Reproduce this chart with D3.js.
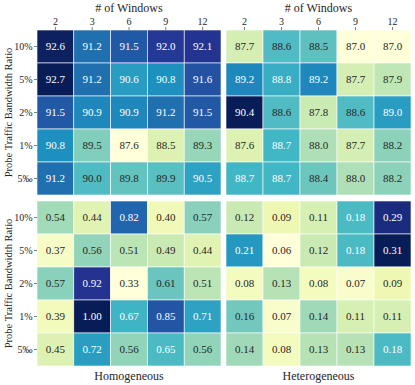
<!DOCTYPE html>
<html>
<head>
<meta charset="utf-8">
<script src="https://cdn.jsdelivr.net/npm/d3@7"></script>
<style>
  body { margin: 0; background: #fff; }
</style>
</head>
<body>
<div id="chart"></div>
<script>
// columns and rows
var windows = [2, 3, 6, 9, 12];
var ratios = ["10%", "5%", "2%", "1%", "5\u2030"];

// accuracy (top row of panels)
var homoAcc = [
    [92.6, 91.2, 91.5, 92.0, 92.1],
    [92.7, 91.2, 90.6, 90.8, 91.6],
    [91.5, 90.9, 90.9, 91.2, 91.5],
    [90.8, 89.5, 87.6, 88.5, 89.3],
    [91.2, 90.0, 89.8, 89.9, 90.5]
];
var heteroAcc = [
    [87.7, 88.6, 88.5, 87.0, 87.0],
    [89.2, 88.8, 89.2, 87.7, 87.9],
    [90.4, 88.6, 87.8, 88.6, 89.0],
    [87.6, 88.7, 88.0, 87.7, 88.2],
    [88.7, 88.7, 88.4, 88.0, 88.2]
];

// overhead (bottom row of panels)
var homoOvh = [
    [0.54, 0.44, 0.82, 0.40, 0.57],
    [0.37, 0.56, 0.51, 0.49, 0.44],
    [0.57, 0.92, 0.33, 0.61, 0.51],
    [0.39, 1.00, 0.67, 0.85, 0.71],
    [0.45, 0.72, 0.56, 0.65, 0.56]
];
var heteroOvh = [
    [0.12, 0.09, 0.11, 0.18, 0.29],
    [0.21, 0.06, 0.12, 0.18, 0.31],
    [0.08, 0.13, 0.08, 0.07, 0.09],
    [0.16, 0.07, 0.14, 0.11, 0.11],
    [0.14, 0.08, 0.13, 0.13, 0.18]
];

var width = 415, height = 385;
var serif = "'Liberation Serif', 'Times New Roman', Times, 'Nimbus Roman', 'DejaVu Serif', serif";

var svg = d3.select("#chart").append("svg")
    .attr("width", width)
    .attr("height", height)
    .style("font-family", serif);

// matplotlib-style linear YlGnBu
var ylgnbu = d3.piecewise(d3.interpolateRgb, d3.schemeYlGnBu[9]);

function lum(c) {
    var rgb = d3.rgb(c);
    function ch(v) {
        v = v / 255;
        return v <= 0.03928 ? v / 12.92 : Math.pow((v + 0.055) / 1.055, 2.4);
    }
    return 0.2126 * ch(rgb.r) + 0.7152 * ch(rgb.g) + 0.0722 * ch(rgb.b);
}

var colLeft = d3.scaleBand().domain(windows).range([37, 221]);
var colRight = d3.scaleBand().domain(windows).range([226, 411]);
var rowTop = d3.scaleBand().domain(ratios).range([30, 195]);
var rowBottom = d3.scaleBand().domain(ratios).range([201, 366]);

function drawPanel(data, x, y, fmt) {
    var flat = [];
    data.forEach(function(row, i) {
        row.forEach(function(v, j) {
            flat.push({r: ratios[i], c: windows[j], v: v});
        });
    });
    var color = d3.scaleSequential(ylgnbu)
        .domain(d3.extent(flat, function(d) { return d.v; }));

    var g = svg.append("g");
    var cell = g.selectAll(".cell")
        .data(flat)
        .enter()
        .append("g")
        .attr("class", "cell");

    cell.append("rect")
        .attr("x", function(d) { return x(d.c); })
        .attr("y", function(d) { return y(d.r); })
        .attr("width", x.bandwidth())
        .attr("height", y.bandwidth())
        .attr("fill", function(d) { return color(d.v); })
        .attr("stroke", "white")
        .attr("stroke-width", 0.6);

    cell.append("text")
        .attr("x", function(d) { return x(d.c) + x.bandwidth() / 2; })
        .attr("y", function(d) { return y(d.r) + y.bandwidth() / 2; })
        .attr("dy", "0.35em")
        .attr("text-anchor", "middle")
        .style("font-family", serif)
        .style("font-size", "11px")
        .attr("fill", function(d) {
            return lum(color(d.v)) > 0.408 ? "#262626" : "white";
        })
        .text(function(d) { return d3.format(fmt)(d.v); });
}

drawPanel(homoAcc, colLeft, rowTop, ".1f");
drawPanel(heteroAcc, colRight, rowTop, ".1f");
drawPanel(homoOvh, colLeft, rowBottom, ".2f");
drawPanel(heteroOvh, colRight, rowBottom, ".2f");

// axes
function styleAxis(g) {
    g.attr("font-family", null).attr("font-size", null);
    g.select(".domain").remove();
    g.selectAll(".tick line").attr("stroke", "#262626").attr("stroke-width", 0.6);
    g.selectAll(".tick text")
        .attr("fill", "#262626")
        .style("font-size", "10px")
        .style("font-family", serif);
}

function label(x, y, txt, size) {
    return svg.append("text")
        .attr("x", x)
        .attr("y", y)
        .attr("text-anchor", "middle")
        .style("font-size", size + "px")
        .style("font-family", serif)
        .attr("fill", "#262626")
        .text(txt);
}

[colLeft, colRight].forEach(function(x) {
    svg.append("g")
        .attr("transform", "translate(0,30)")
        .call(d3.axisTop(x).tickSize(3).tickPadding(2))
        .call(styleAxis);
    label((x.range()[0] + x.range()[1]) / 2, 12, "# of Windows", 12);
});

[rowTop, rowBottom].forEach(function(y) {
    svg.append("g")
        .attr("transform", "translate(37,0)")
        .call(d3.axisLeft(y).tickSize(3).tickPadding(1.5))
        .call(styleAxis);
    var cy = (y.range()[0] + y.range()[1]) / 2;
    label(0, 0, "Probe Traffic Bandwidth Ratio", 10.5)
        .attr("transform", "translate(12," + cy + ") rotate(-90)");
});

label((colLeft.range()[0] + colLeft.range()[1]) / 2, 380, "Homogeneous", 12);
label((colRight.range()[0] + colRight.range()[1]) / 2, 380, "Heterogeneous", 12);
</script>
</body>
</html>
